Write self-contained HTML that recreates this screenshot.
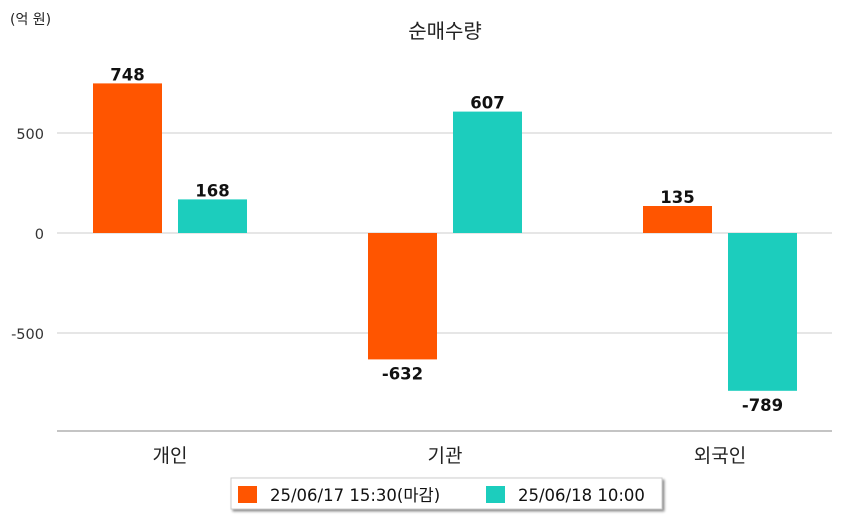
<!DOCTYPE html>
<html><head><meta charset="utf-8"><style>
html,body{margin:0;padding:0;background:#fff;}
body{width:842px;height:520px;overflow:hidden;font-family:"DejaVu Sans","Noto Sans CJK KR",sans-serif;}
</style></head><body>
<svg id="chart" width="842" height="520" xmlns="http://www.w3.org/2000/svg" font-family="'DejaVu Sans','Noto Sans CJK KR',sans-serif">
<defs><filter id="sh" x="-5%" y="-20%" width="110%" height="150%"><feDropShadow dx="2" dy="2" stdDeviation="1.2" flood-color="#000" flood-opacity="0.45"/></filter></defs>
<text x="10" y="24" font-size="14" fill="#222">(억 원)</text>
<text x="445" y="38" font-size="20" text-anchor="middle" fill="#222">순매수량</text>
<g id="grid"></g>
<g id="bars"></g>
<line x1="57" x2="832" y1="431" y2="431" stroke="#888" stroke-width="1"/>
<g id="xlabels"></g>
<g>
<rect x="231" y="478" width="431" height="31" fill="#fff" stroke="#ccc" filter="url(#sh)"/>
<rect x="238" y="486" width="19" height="17" fill="#ff5500"/>
<text x="270" y="501" font-size="16.5" fill="#111">25/06/17 15:30(마감)</text>
<rect x="486" y="486" width="19" height="17" fill="#1ccdbd"/>
<text x="518" y="501" font-size="16.5" fill="#111">25/06/18 10:00</text>
</g>
</svg>
<script>
const categories=["개인","기관","외국인"];
const series1=[748,-632,135];
const series2=[168,607,-789];
const ticks=[-500,0,500];
const NS="http://www.w3.org/2000/svg";
const y=v=>233-v*0.2;
const cx=i=>170+275*i;
function mk(t,a,p){const e=document.createElementNS(NS,t);for(const k in a)e.setAttribute(k,a[k]);p.appendChild(e);return e;}
const grid=document.getElementById('grid'),bars=document.getElementById('bars'),xl=document.getElementById('xlabels');
ticks.forEach(t=>{
 const l=mk('line',{x1:57,x2:832,y1:y(t),y2:y(t),stroke:'#ccc','stroke-width':1},grid);
 
 
 const tx=mk('text',{x:44,y:y(t)+6,'font-size':14.5,'text-anchor':'end',fill:'#333'},grid);
 tx.textContent=t;
 
 
});
categories.forEach((c,i)=>{
 [[series1,'#ff5500',-77],[series2,'#1ccdbd',8]].forEach(([s,col,off],j)=>{
  const v=s[i],x=cx(i)+off;
  const r=mk('rect',{x:x,y:Math.min(y(v),y(0)),width:69,height:Math.abs(y(v)-y(0)),fill:col},bars);
  
  
  const t=mk('text',{x:x+34.5,y:v>=0?y(v)-3:y(v)+20,'font-size':16.5,'font-weight':'bold','text-anchor':'middle',fill:'#111'},bars);
  t.textContent=v;
  
  
 });
 const t=mk('text',{x:cx(i),y:462,'font-size':19,'text-anchor':'middle',fill:'#222'},xl);
 t.textContent=c;
 
 
});
</script>
</body></html>
